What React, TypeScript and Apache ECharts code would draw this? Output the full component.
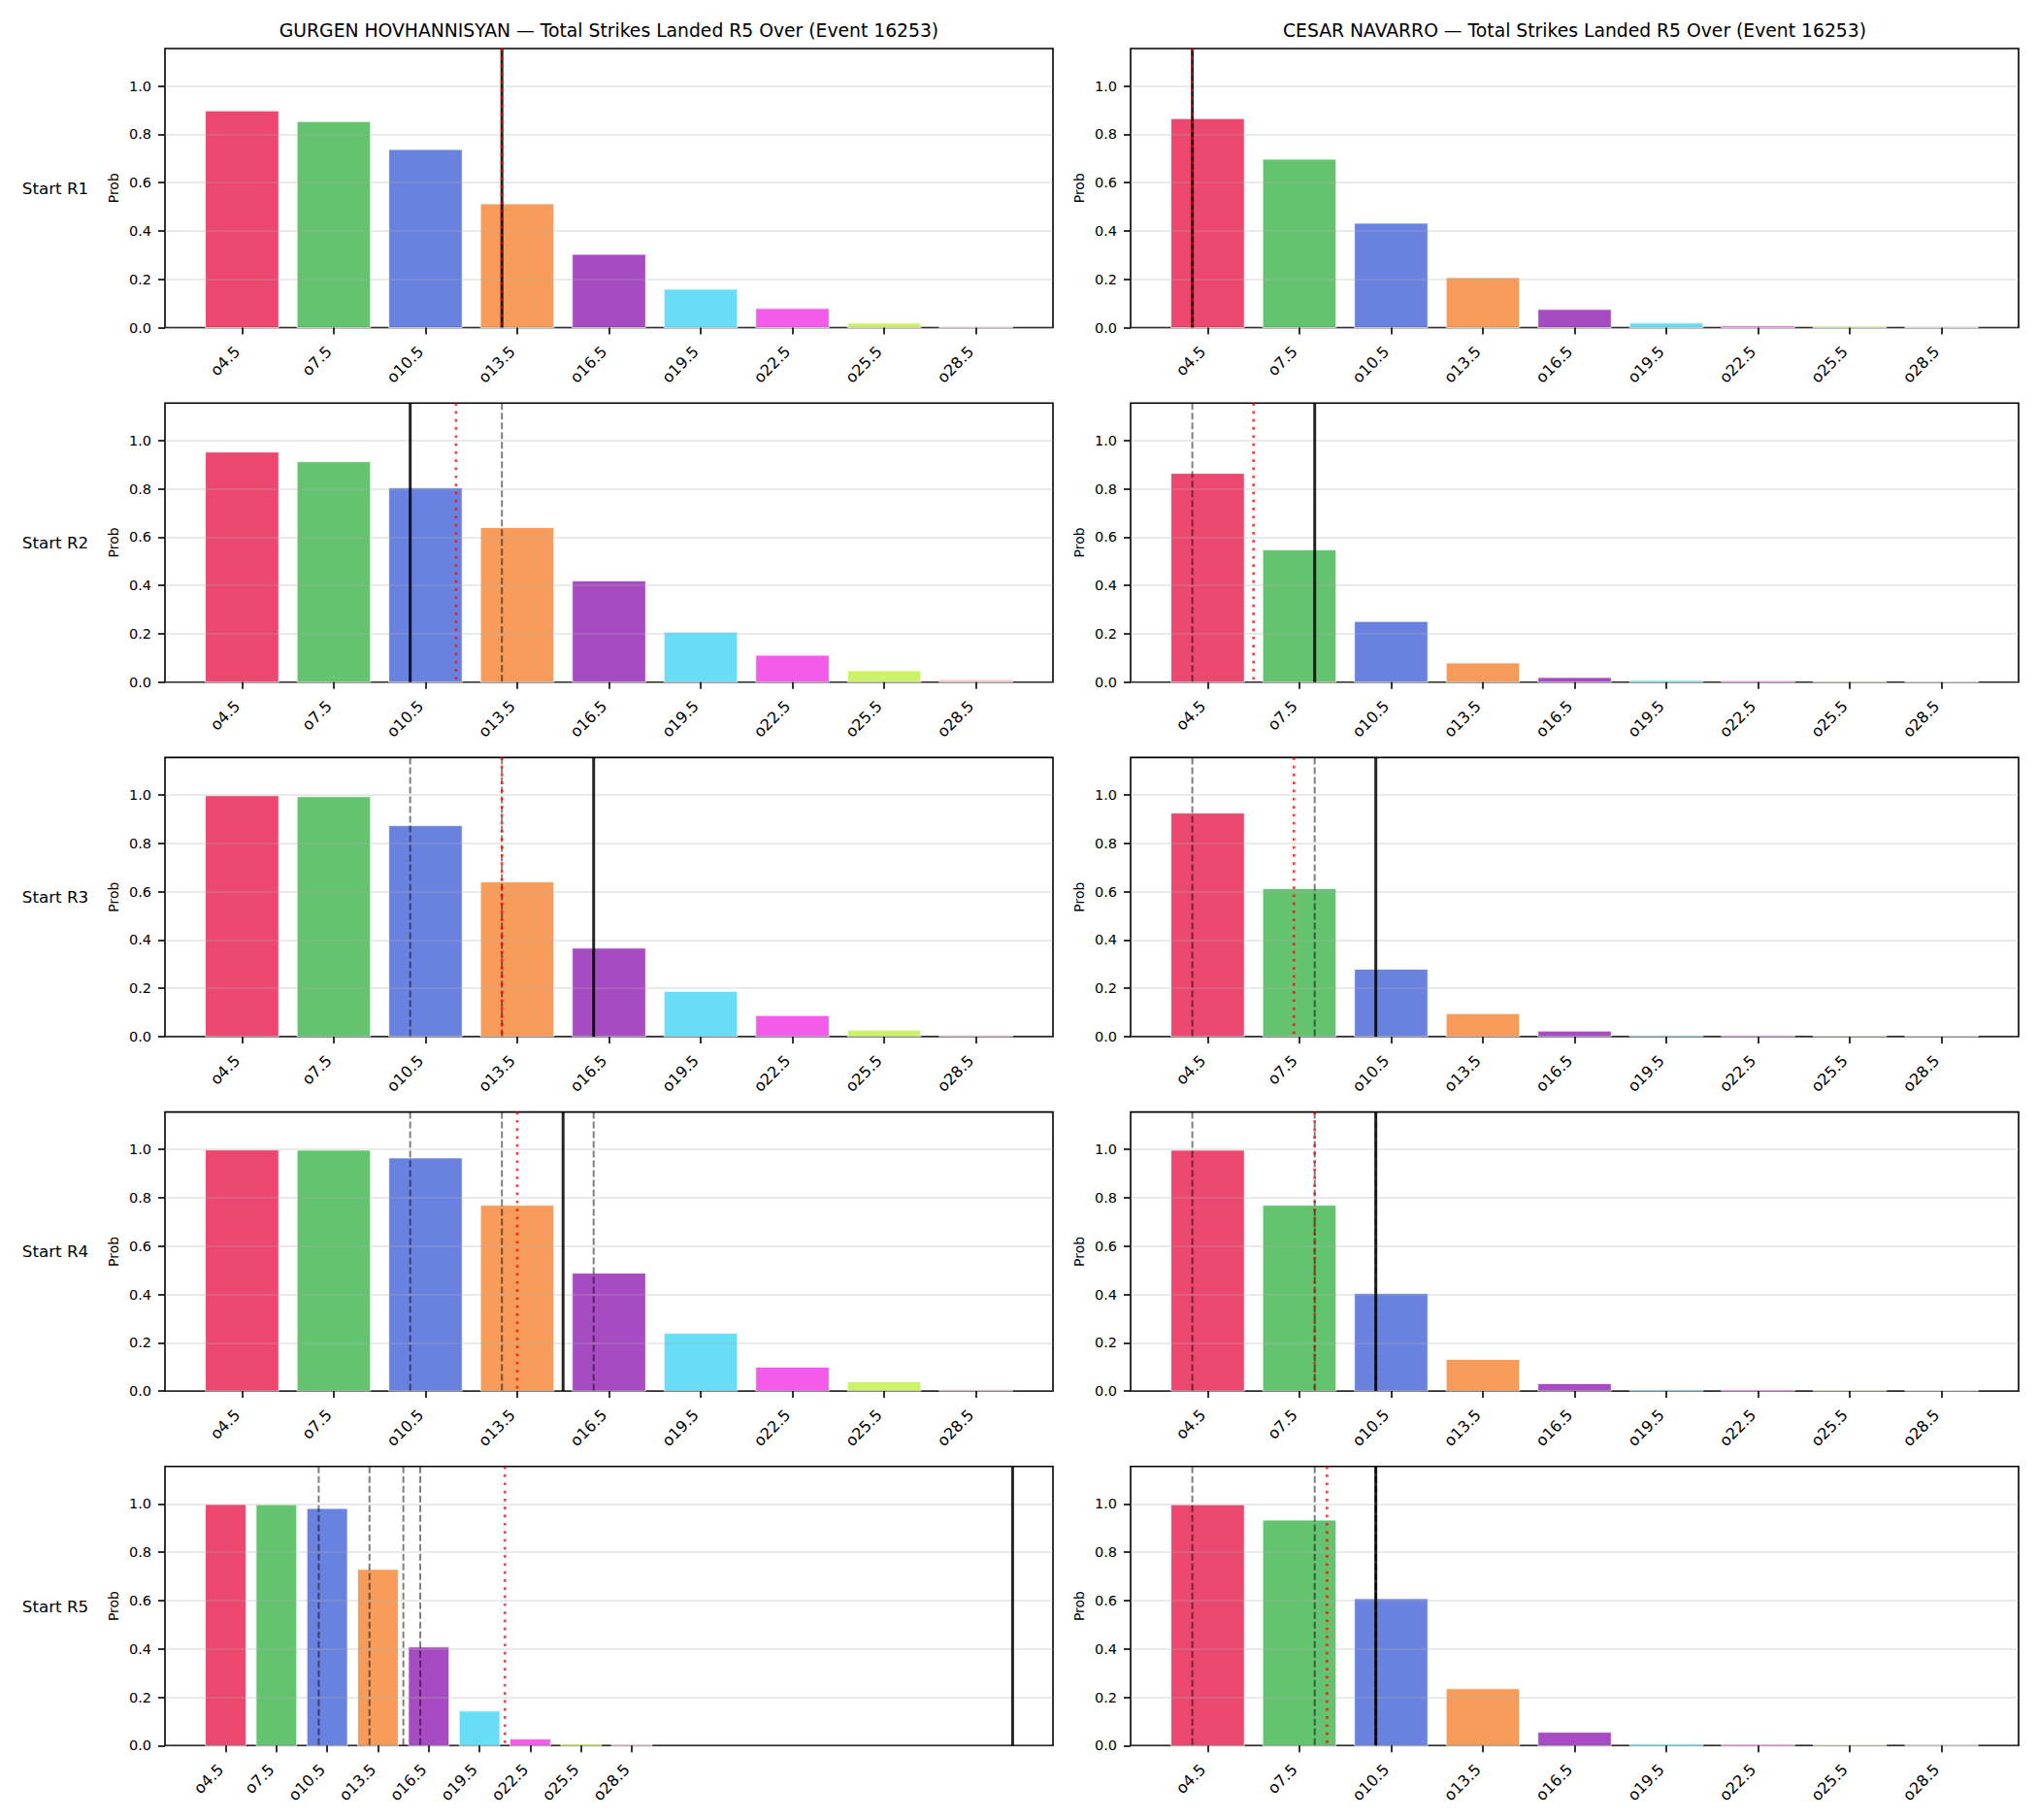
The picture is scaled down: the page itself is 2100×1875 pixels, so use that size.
import React, { useEffect, useRef } from "react";
import * as echarts from "echarts";

const CATEGORIES = ["o4.5", "o7.5", "o10.5", "o13.5", "o16.5", "o19.5", "o22.5", "o25.5", "o28.5"];
const BAR_COLORS = ["#e6194b", "#3cb44b", "#4363d8", "#f58231", "#911eb4", "#42d4f4", "#f032e6", "#bfef45", "#fabebe"];
const ROW_LABELS = ["Start R1", "Start R2", "Start R3", "Start R4", "Start R5"];
const LEFT_TITLE = "GURGEN HOVHANNISYAN — Total Strikes Landed R5 Over (Event 16253)";
const RIGHT_TITLE = "CESAR NAVARRO — Total Strikes Landed R5 Over (Event 16253)";
const Y_TICKS = [0, 0.2, 0.4, 0.6, 0.8, 1.0];
const Y_MAX = 1.155;

// Probabilities per starting round
const GURGEN_R1 = [0.897, 0.853, 0.737, 0.512, 0.303, 0.159, 0.079, 0.019, 0.005];
const GURGEN_R2 = [0.952, 0.912, 0.804, 0.64, 0.419, 0.207, 0.111, 0.047, 0.011];
const GURGEN_R3 = [0.997, 0.993, 0.873, 0.64, 0.366, 0.187, 0.087, 0.027, 0.007];
const GURGEN_R4 = [0.998, 0.997, 0.965, 0.769, 0.488, 0.239, 0.099, 0.039, 0.007];
const GURGEN_R5 = [0.998, 0.997, 0.981, 0.729, 0.408, 0.143, 0.027, 0.007, 0.006];
const CESAR_R1 = [0.865, 0.697, 0.432, 0.207, 0.075, 0.019, 0.007, 0.006, 0.003];
const CESAR_R2 = [0.864, 0.547, 0.251, 0.079, 0.019, 0.007, 0.006, 0.004, 0.003];
const CESAR_R3 = [0.925, 0.612, 0.279, 0.095, 0.023, 0.006, 0.005, 0.004, 0.003];
const CESAR_R4 = [0.997, 0.769, 0.404, 0.131, 0.031, 0.006, 0.005, 0.004, 0.003];
const CESAR_R5 = [0.997, 0.933, 0.608, 0.235, 0.055, 0.006, 0.005, 0.004, 0.002];

// Reference line positions (in category-index units)
const GURGEN_SOLID = [2.833, 1.833, 3.833, 3.5, 15.5];
const GURGEN_DOTTED = [2.833, 2.333, 2.833, 3.0, 5.5];
const GURGEN_DASHED = [[], [2.833], [2.833, 1.833], [2.833, 1.833, 3.833], [2.833, 1.833, 3.833, 3.5]];
const CESAR_SOLID = [-0.167, 1.167, 1.833, 1.833, 1.833];
const CESAR_DOTTED = [-0.167, 0.5, 0.94, 1.167, 1.3];
const CESAR_DASHED = [[], [-0.167], [-0.167, 1.167], [-0.167, 1.167, 1.833], [-0.167, 1.167, 1.833, 1.833]];

const GURGEN_PROBS = [GURGEN_R1, GURGEN_R2, GURGEN_R3, GURGEN_R4, GURGEN_R5];
const CESAR_PROBS = [CESAR_R1, CESAR_R2, CESAR_R3, CESAR_R4, CESAR_R5];

const FONT = "DejaVu Sans";
const COL_LEFT = [170, 1165];
const GRID_W = 915;
const ROW_TOP = [50, 415.2, 780.4, 1145.6, 1510.8];
const GRID_H = 287.5;

function hexAlpha(hex: string, a: number) {
  const r = parseInt(hex.slice(1, 3), 16);
  const g = parseInt(hex.slice(3, 5), 16);
  const b = parseInt(hex.slice(5, 7), 16);
  return `rgba(${r},${g},${b},${a})`;
}

export default function App() {
  const ref = useRef<HTMLDivElement>(null);
  useEffect(() => {
    if (!ref.current) return;
    const chart = echarts.init(ref.current, undefined, { renderer: "svg" });
    const grids: any[] = [];
    const xAxes: any[] = [];
    const yAxes: any[] = [];
    const series: any[] = [];
    const xTicks = CATEGORIES.map((_, i) => i);

    const panels: any[] = [];
    for (let r = 0; r < 5; r++) {
      panels.push({ col: 0, row: r, probs: GURGEN_PROBS[r], solid: [GURGEN_SOLID[r]], dotted: [GURGEN_DOTTED[r]], dashed: GURGEN_DASHED[r] });
      panels.push({ col: 1, row: r, probs: CESAR_PROBS[r], solid: [CESAR_SOLID[r]], dotted: [CESAR_DOTTED[r]], dashed: CESAR_DASHED[r] });
    }

    panels.forEach((p, i) => {
      const allLines = [...p.solid, ...p.dotted, ...p.dashed];
      const lo = Math.min(-0.4, ...allLines);
      const hi = Math.max(CATEGORIES.length - 1 + 0.4, ...allLines);
      const pad = 0.05 * (hi - lo);
      grids.push({
        left: COL_LEFT[p.col],
        top: ROW_TOP[p.row],
        width: GRID_W,
        height: GRID_H,
        show: true,
        borderColor: "#000",
        borderWidth: 1.6,
        backgroundColor: "transparent",
      });
      xAxes.push({
        type: "value",
        gridIndex: i,
        min: lo - pad,
        max: hi + pad,
        z: 3,
        axisLine: { show: false, onZero: false },
        splitLine: { show: false },
        axisTick: { show: true, customValues: xTicks, length: 7, lineStyle: { color: "#000", width: 1.6 } },
        axisLabel: {
          show: true,
          customValues: xTicks,
          formatter: (v: number) => CATEGORIES[Math.round(v)] ?? "",
          rotate: 45,
          margin: 17,
          padding: [0, 7, 0, 0],
          fontSize: 16,
          fontFamily: FONT,
          color: "#000",
        },
      });
      yAxes.push({
        type: "value",
        gridIndex: i,
        min: 0,
        max: Y_MAX,
        z: 3,
        name: "Prob",
        nameLocation: "middle",
        nameGap: 46,
        nameTextStyle: { fontSize: 14, fontFamily: FONT, color: "#000" },
        axisLine: { show: false, onZero: false },
        axisTick: { show: true, customValues: Y_TICKS, length: 7, lineStyle: { color: "#000", width: 1.6 } },
        axisLabel: {
          show: true,
          customValues: Y_TICKS,
          formatter: (v: number) => v.toFixed(1),
          margin: 14,
          fontSize: 14.5,
          fontFamily: FONT,
          color: "#000",
        },
        splitLine: { show: true, lineStyle: { color: "rgba(176,176,176,0.35)", width: 1.6 } },
      });

      series.push({
        type: "custom",
        xAxisIndex: i,
        yAxisIndex: i,
        z: 2,
        data: p.probs.map((v: number, k: number) => [k, v]),
        encode: { x: 0, y: 1 },
        renderItem: (params: any, api: any) => {
          const x = api.value(0);
          const y = api.value(1);
          const a = api.coord([x - 0.4, y]);
          const b = api.coord([x + 0.4, 0]);
          return {
            type: "rect",
            shape: { x: a[0], y: a[1], width: b[0] - a[0], height: b[1] - a[1] },
            style: { fill: hexAlpha(BAR_COLORS[params.dataIndex], 0.8), stroke: "rgba(255,255,255,0.8)", lineWidth: 1 },
          };
        },
      });

      const lineSeries = (vals: number[], style: any, z: number) => ({
        type: "custom",
        xAxisIndex: i,
        yAxisIndex: i,
        z,
        data: vals.map((v) => [v, 0]),
        encode: { x: 0, y: 1 },
        renderItem: (params: any, api: any) => {
          const pt = api.coord([api.value(0), 0]);
          const cs = params.coordSys;
          return {
            type: "line",
            shape: { x1: pt[0], y1: cs.y, x2: pt[0], y2: cs.y + cs.height },
            style,
          };
        },
      });
      series.push(lineSeries(p.dashed, { stroke: "rgba(0,0,0,0.5)", lineWidth: 2, lineDash: [7, 3] }, 5));
      series.push(lineSeries(p.solid, { stroke: "rgba(0,0,0,0.85)", lineWidth: 3 }, 6));
      series.push(lineSeries(p.dotted, { stroke: "rgba(255,0,0,0.75)", lineWidth: 2.7, lineDash: [2.7, 5.6] }, 7));
    });

    const graphics: any[] = [];
    [LEFT_TITLE, RIGHT_TITLE].forEach((t, c) => {
      graphics.push({
        type: "text",
        x: COL_LEFT[c] + GRID_W / 2,
        y: 31,
        style: { text: t, fontSize: 18.75, fontFamily: FONT, fill: "#000", align: "center", verticalAlign: "middle" },
      });
    });
    ROW_LABELS.forEach((t, r) => {
      graphics.push({
        type: "text",
        x: 57,
        y: ROW_TOP[r] + GRID_H / 2,
        style: { text: t, fontSize: 16.7, fontFamily: FONT, fill: "#000", align: "center", verticalAlign: "middle" },
      });
    });

    chart.setOption({
      animation: false,
      backgroundColor: "#fff",
      grid: grids,
      xAxis: xAxes,
      yAxis: yAxes,
      series,
      graphic: graphics,
    });
    return () => chart.dispose();
  }, []);
  return <div ref={ref} style={{ position: "absolute", left: 0, top: 0, width: 2100, height: 1875 }} />;
}
